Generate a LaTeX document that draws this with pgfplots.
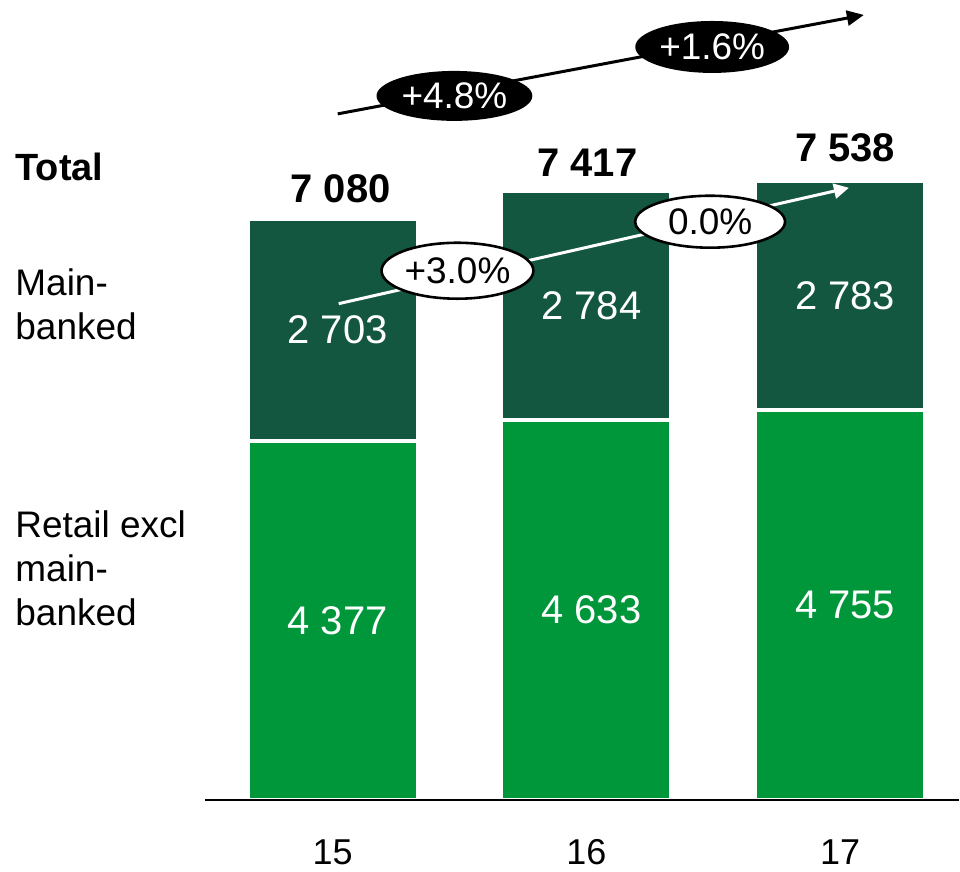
\documentclass[border=0pt]{standalone}
\usepackage{fontspec}
\setmainfont{Liberation Sans}
\usepackage{pgfplots}
\usepackage{pgfplotstable}
\pgfplotsset{compat=1.18}
\usetikzlibrary{arrows.meta,shapes.geometric}
\definecolor{darkg}{RGB}{19,87,64}
\definecolor{lightg}{RGB}{0,150,58}
\pgfplotstableread{
x low up
0 4377 2703
1 4633 2784
2 4755 2783
}\datatab
\begin{document}
\begin{tikzpicture}
\begin{axis}[
  scale only axis, width=377.5pt, height=400.5pt,
  xmin=-0.504, xmax=2.469, ymin=0, ymax=9744,
  axis x line*=bottom, hide y axis,
  axis on top,
  x axis line style={line width=1pt, black, -},
  xtick={0,1,2}, xticklabels={15,16,17},
  major tick length=0pt,
  /pgf/number format/assume math mode=true,
  xticklabel style={font=\fontsize{18}{22}\selectfont, anchor=base, yshift=-32pt},
  clip=false,
]
\addplot[ybar, bar width=0.669, bar shift=0pt, fill=darkg, draw=white, line width=2pt] table[x=x, y expr=\thisrow{low}+\thisrow{up}] {\datatab};
\addplot[ybar, bar width=0.669, bar shift=0pt, fill=lightg, draw=white, line width=2pt] table[x=x, y=low] {\datatab};

% segment values
\begin{scope}[every node/.style={font=\fontsize{20}{24}\selectfont, text=white, inner sep=0pt, anchor=center, xshift=2.5pt}]
\node at (axis cs:0,2188) {4 377};
\node at (axis cs:1,2316) {4 633};
\node at (axis cs:2,2377) {4 755};
\node at (axis cs:0,5728) {2 703};
\node at (axis cs:1,6025) {2 784};
\node at (axis cs:2,6146) {2 783};
\end{scope}
% totals
\begin{scope}[every node/.style={font=\fontsize{20}{24}\selectfont\bfseries, text=black, inner sep=0pt, anchor=base}]
\node[yshift=8pt, xshift=4pt] at (axis cs:0,7080) {7 080};
\node[yshift=7.5pt, xshift=0.5pt] at (axis cs:1,7417) {7 417};
\node[yshift=10pt, xshift=2.5pt] at (axis cs:2,7538) {7 538};
\end{scope}
% left labels
\begin{scope}[every node/.style={font=\fontsize{18.5}{22}\selectfont, text=black, inner sep=0pt, anchor=base west}]
\node[font=\fontsize{19}{22}\selectfont\bfseries] at (axis cs:-1.252,7542) {Total};
\node at (axis cs:-1.252,6143) {Main-};
\node at (axis cs:-1.252,5608) {banked};
\node at (axis cs:-1.252,3199) {Retail excl};
\node at (axis cs:-1.252,2664) {main-};
\node at (axis cs:-1.252,2129) {banked};
\end{scope}
% white growth arrow
\draw[white, line width=1.5pt, -{Triangle[length=7.5pt,width=7.5pt]}] (axis cs:0.024,6046) -- (axis cs:2.035,7457);
\node[ellipse, fill=white, draw=black, line width=1.3pt, text=black, minimum width=76pt, minimum height=28pt, inner sep=0pt, font=\fontsize{18.5}{22}\selectfont] at (axis cs:0.492,6447) {+3.0\%};
\node[ellipse, fill=white, draw=black, line width=1.3pt, text=black, minimum width=75pt, minimum height=26pt, inner sep=0pt, font=\fontsize{18.5}{22}\selectfont] at (axis cs:1.488,7044) {0.0\%};
% black growth arrow
\draw[black, line width=1.5pt, -{Triangle[length=8.5pt,width=7.5pt]}] (axis cs:0.02,8357) -- (axis cs:2.094,9562);
\node[ellipse, fill=black, text=white, minimum width=78pt, minimum height=25pt, inner sep=0pt, font=\fontsize{18.5}{22}\selectfont] at (axis cs:0.480,8576) {+4.8\%};
\node[ellipse, fill=black, text=white, minimum width=77pt, minimum height=26pt, inner sep=0pt, font=\fontsize{18.5}{22}\selectfont] at (axis cs:1.496,9172) {+1.6\%};
% bounding box
\path (rel axis cs:0,0) ++(-102.5pt,-34pt) rectangle (rel axis cs:1,1);
\end{axis}
\end{tikzpicture}
\end{document}
